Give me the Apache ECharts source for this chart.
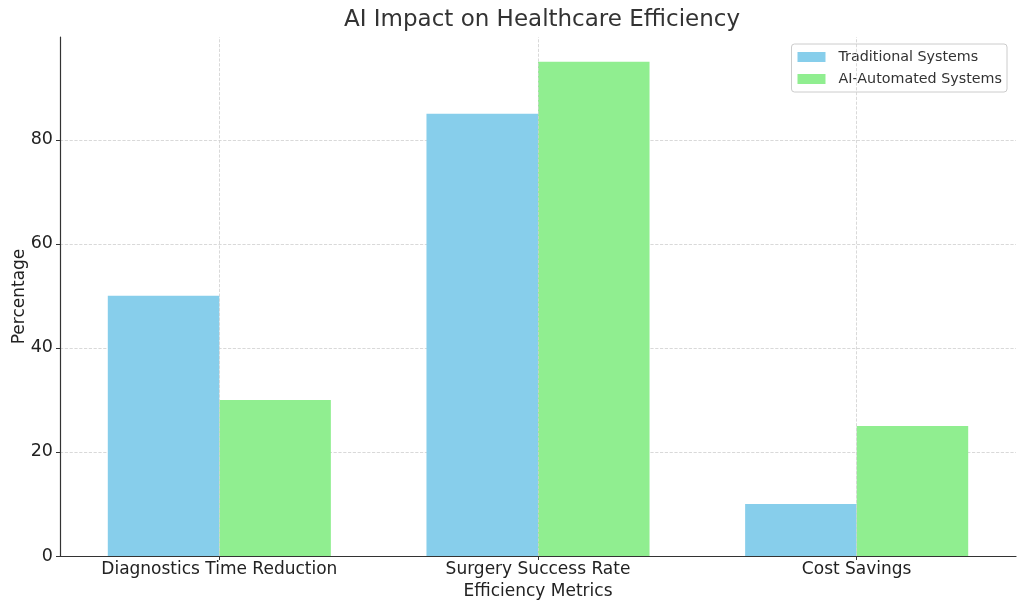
<!DOCTYPE html>
<html><head><meta charset="utf-8">
<script src="https://cdn.jsdelivr.net/npm/echarts@6/dist/echarts.min.js"></script>
<style>html,body{margin:0;padding:0;background:#fff}#c{width:1024px;height:611px}</style>
</head><body><div id="c"></div>
<script>
const categories = ['Diagnostics Time Reduction', 'Surgery Success Rate', 'Cost Savings'];
const traditional = [50, 85, 10];
const aiAutomated = [30, 95, 25];
const seriesNames = ['Traditional Systems', 'AI-Automated Systems'];
const yTicks = [0, 20, 40, 60, 80];

const FONT = 'DejaVu Sans';
const chart = echarts.init(document.getElementById('c'), null, {renderer: 'canvas'});
chart.setOption({
  animation: false,
  backgroundColor: '#fff',
  textStyle: {fontFamily: FONT},
  title: {
    text: 'AI Impact on Healthcare Efficiency',
    left: 537, top: 4, textAlign: 'center',
    textStyle: {fontFamily: FONT, fontSize: 23, fontWeight: 'normal', color: '#333'}
  },
  legend: {
    orient: 'vertical', right: 17, top: 44,
    itemWidth: 28, itemHeight: 10, itemGap: 8,
    padding: [6, 5, 6, 6],
    borderColor: '#ccc', borderWidth: 1, borderRadius: 3,
    formatter: name => '{t|' + name + '}',
    textStyle: {fontFamily: FONT, fontSize: 14, color: '#333',
      rich: {t: {fontFamily: FONT, fontSize: 14.3, color: '#333', padding: [0, 0, 0, 8]}}},
    data: seriesNames.map(n => ({name: n, icon: 'rect'}))
  },
  grid: {left: 60, right: 8, top: 37, bottom: 55, outerBoundsMode: 'none', containLabel: false},
  xAxis: [{
    type: 'category', data: categories, boundaryGap: true,
    name: 'Efficiency Metrics', nameLocation: 'middle', nameGap: 27, nameMoveOverlap: false,
    nameTextStyle: {fontFamily: FONT, fontSize: 17, color: '#222'},
    axisLine: {lineStyle: {color: '#333', width: 1.2}},
    axisTick: {show: true, alignWithLabel: true, length: 4, lineStyle: {color: '#333'}},
    axisLabel: {fontFamily: FONT, fontSize: 17, color: '#222', margin: 5},
    splitLine: {show: false}
  }],
  yAxis: {
    type: 'value', min: 0, max: 99.75, interval: 20,
    name: 'Percentage', nameLocation: 'middle', nameGap: 32, nameMoveOverlap: false,
    nameTextStyle: {fontFamily: FONT, fontSize: 17, color: '#222'},
    axisLine: {show: true, lineStyle: {color: '#333', width: 1.2}},
    axisTick: {show: true, length: 4, lineStyle: {color: '#333'}},
    axisLabel: {fontFamily: FONT, fontSize: 17.5, color: '#222', margin: 7, showMaxLabel: false,
      formatter: v => yTicks.includes(v) ? String(v) : ''},
    splitLine: {show: true, showMinLine: false, showMaxLine: false,
      lineStyle: {type: 'dashed', color: '#cfcfcf', width: 0.8}}
  },
  series: [
    {
      name: 'grid-x', type: 'line', data: [], silent: true,
      markLine: {
        silent: true, symbol: 'none', label: {show: false}, animation: false,
        lineStyle: {type: 'dashed', color: '#cfcfcf', width: 0.8},
        data: categories.map(c => ({xAxis: c}))
      },
      z: 1
    },
    {
      name: seriesNames[0], type: 'bar', data: traditional,
      barWidth: '35%', barGap: '0%',
      itemStyle: {color: '#87CEEB'},
      z: 2
    },
    {
      name: seriesNames[1], type: 'bar', data: aiAutomated,
      barWidth: '35%', barGap: '0%',
      itemStyle: {color: '#90EE90'},
      z: 2
    }
  ]
});
</script></body></html>
